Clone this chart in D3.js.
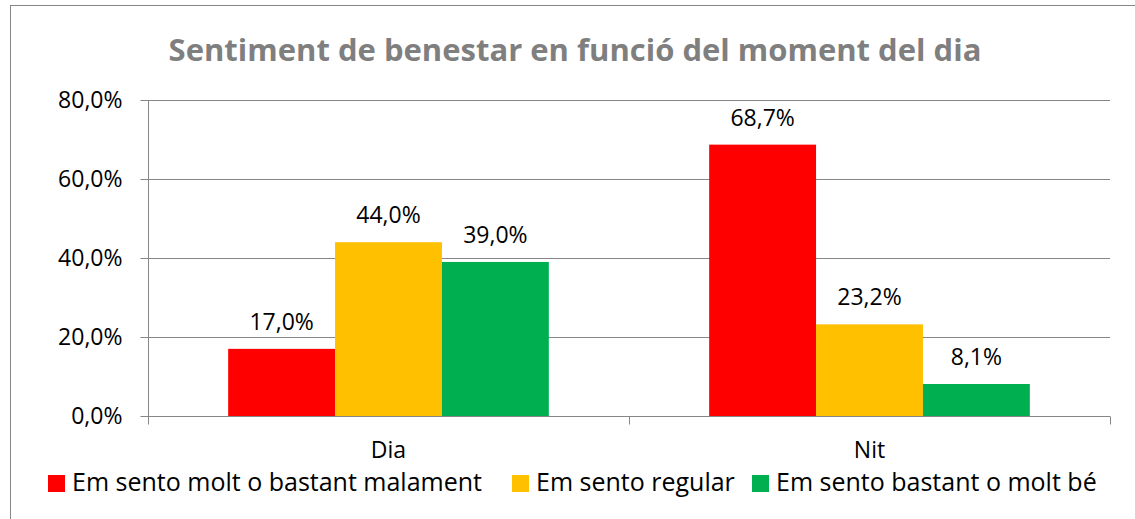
<!DOCTYPE html>
<html lang="ca">
<head>
<meta charset="UTF-8">
<title>Sentiment de benestar</title>
<style>
  body { margin: 0; background: #fff; }
  #canvas { width: 1135px; height: 519px; }
  text { font-family: "Open Sans", sans-serif; }
  .axis path, .axis line { stroke: #868686; }
  .axis text { fill: #000; font-size: 23px; font-family: "Open Sans", sans-serif; }
  .grid line { stroke: #868686; }
</style>
<script src="https://cdn.jsdelivr.net/npm/d3@7/dist/d3.min.js"></script>
</head>
<body>
<div id="canvas"></div>
<script>
  //data
  var categories = ["Dia", "Nit"];
  var series = ["Em sento molt o bastant malament", "Em sento regular", "Em sento bastant o molt bé"];
  var colors = ["#ff0000", "#ffc000", "#00b050"];
  var values = [
    [17.0, 44.0, 39.0],  // Dia
    [68.7, 23.2, 8.1]    // Nit
  ];
  var yTicks = [0, 20, 40, 60, 80];
  var title = "Sentiment de benestar en funció del moment del dia";

  var width = 1135, height = 519;
  var plot = {left: 148, right: 1110, top: 100, bottom: 416};

  var fmt = function(v) { return v.toFixed(1).replace(".", ",") + "%"; };

  var svg = d3.select("#canvas").append("svg")
      .attr("width", width)
      .attr("height", height);

  //chart border
  svg.append("rect")
      .attr("x", 10.5).attr("y", 5.5)
      .attr("width", 1130).attr("height", 530)
      .attr("fill", "none")
      .attr("stroke", "#868686");

  //scales
  var x0 = d3.scaleBand()
      .domain(categories)
      .range([plot.left, plot.right]);

  var x1 = d3.scaleBand()
      .domain(series)
      .range([x0.bandwidth() / 6, x0.bandwidth() * 5 / 6]);

  var y = d3.scaleLinear()
      .domain([0, 80])
      .range([plot.bottom, plot.top]);

  //grid
  svg.append("g")
      .attr("class", "grid")
      .selectAll("line")
      .data(yTicks.slice(1))
      .enter().append("line")
      .attr("x1", plot.left).attr("x2", plot.right)
      .attr("y1", function(d) { return Math.round(y(d)) + 0.5; })
      .attr("y2", function(d) { return Math.round(y(d)) + 0.5; });

  //title
  svg.append("text")
      .attr("x", 575).attr("y", 61)
      .attr("text-anchor", "middle")
      .attr("font-size", "31px")
      .attr("font-weight", "bold")
      .attr("fill", "#7f7f7f")
      .text(title);

  //bars
  var groups = svg.selectAll(".group")
      .data(values)
      .enter().append("g")
      .attr("class", "group")
      .attr("transform", function(d, i) { return "translate(" + x0(categories[i]) + ",0)"; });

  groups.selectAll("rect")
      .data(function(d) { return d; })
      .enter().append("rect")
      .attr("x", function(d, i) { return x1(series[i]); })
      .attr("width", x1.bandwidth())
      .attr("y", function(d) { return y(d); })
      .attr("height", function(d) { return y(0) - y(d); })
      .attr("fill", function(d, i) { return colors[i]; });

  groups.selectAll(".label")
      .data(function(d) { return d; })
      .enter().append("text")
      .attr("class", "label")
      .attr("x", function(d, i) { return x1(series[i]) + x1.bandwidth() / 2; })
      .attr("y", function(d) { return y(d) - 19; })
      .attr("text-anchor", "middle")
      .attr("font-size", "23px")
      .text(fmt);

  //y axis
  var yAxis = d3.axisLeft(y)
      .tickValues(yTicks)
      .tickSize(8)
      .tickPadding(18)
      .tickFormat(fmt);

  svg.append("g")
      .attr("class", "axis")
      .attr("transform", "translate(" + (plot.left + 0.5) + ",0)")
      .call(yAxis)
      .call(function(g) { g.select(".domain").attr("d", "M0," + plot.top + "V" + (plot.bottom + 8)); });

  //x axis
  var xAxis = d3.axisBottom(x0)
      .tickSize(0)
      .tickPadding(25);

  var xg = svg.append("g")
      .attr("class", "axis")
      .attr("transform", "translate(0," + (plot.bottom + 0.5) + ")")
      .call(xAxis);
  xg.select(".domain").attr("d", "M" + plot.left + ",0H" + plot.right);
  xg.selectAll(".sep")
      .data(categories.map(function(c) { return x0(c); }).concat([plot.right]))
      .enter().append("line")
      .attr("class", "sep")
      .attr("x1", function(d) { return Math.round(d) + 0.5; })
      .attr("x2", function(d) { return Math.round(d) + 0.5; })
      .attr("y1", 0).attr("y2", 8);

  //legend
  var legendX = [48, 512, 752];
  var legend = svg.selectAll(".legend")
      .data(series)
      .enter().append("g")
      .attr("class", "legend")
      .attr("transform", function(d, i) { return "translate(" + legendX[i] + ",475)"; });

  legend.append("rect")
      .attr("width", 17).attr("height", 17)
      .attr("fill", function(d, i) { return colors[i]; });

  legend.append("text")
      .attr("x", 24).attr("y", 16)
      .attr("font-size", "25px")
      .text(function(d) { return d; });
</script>
</body>
</html>
